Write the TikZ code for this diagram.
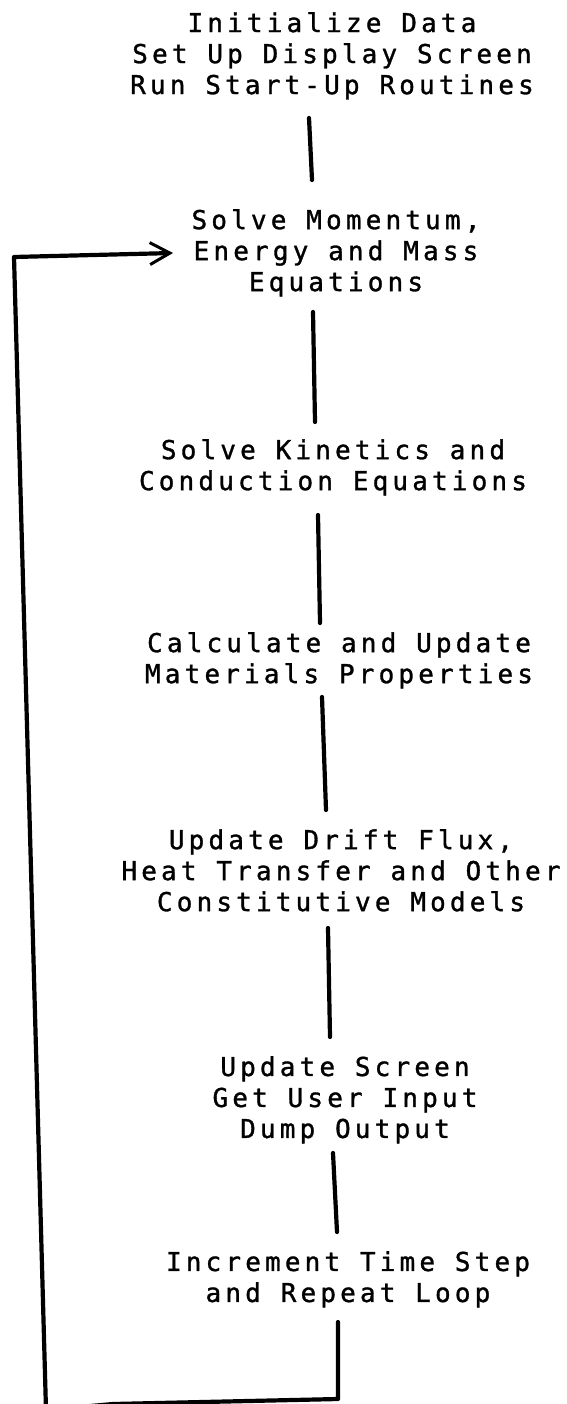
\documentclass[tikz,border=0pt]{standalone}
\usepackage{fontspec}
\newfontfamily\monofam[LetterSpace=16,FakeBold=1.2]{DejaVu Sans Mono}
\usetikzlibrary{arrows.meta}
\begin{document}
\begin{tikzpicture}[x=1pt,y=-1pt,
  stepbox/.style={anchor=north,inner sep=0pt,align=center,
    font=\monofam\fontsize{26}{31}\selectfont},
  link/.style={line width=4.2pt,line cap=round,line join=round},
  looparrow/.style={link,-{Straight Barb[length=20pt,width=22pt,line width=3pt]}}]
\useasboundingbox (0,0) rectangle (566,1404);
\clip (0,0) rectangle (566,1404);
\fill[white] (0,0) rectangle (566,1404);

\node[stepbox] (n1) at (332,12) {Initialize Data\\Set Up Display Screen\\Run Start-Up Routines};
\node[stepbox] (n2) at (336,209) {Solve Momentum,\\Energy and Mass\\Equations};
\node[stepbox] (n3) at (333,439) {Solve Kinetics and\\Conduction Equations};
\node[stepbox] (n4) at (339,632) {Calculate and Update\\Materials Properties};
\node[stepbox] (n5) at (341,829) {Update Drift Flux,\\Heat Transfer and Other\\Constitutive Models};
\node[stepbox] (n6) at (345,1056) {Update Screen\\Get User Input\\Dump Output};
\node[stepbox] (n7) at (348,1251) {Increment Time Step\\and Repeat Loop};

\coordinate (a1) at (309,118);  \coordinate (b1) at (312,180);
\coordinate (a2) at (313,312);  \coordinate (b2) at (315,422);
\coordinate (a3) at (318,515);  \coordinate (b3) at (320,623);
\coordinate (a4) at (322,697);  \coordinate (b4) at (326,810);
\coordinate (a5) at (328,928);  \coordinate (b5) at (330,1037);
\coordinate (a6) at (333,1153); \coordinate (b6) at (337,1232);
\coordinate (a7) at (338,1322);
\coordinate (r7) at (338,1399);
\coordinate (m7) at (113,1404);
\coordinate (l7) at (46,1410);
\coordinate (t7) at (14,257);
\coordinate (e7) at (173,253);

\draw[link] (a1) -- (b1);
\draw[link] (a2) -- (b2);
\draw[link] (a3) -- (b3);
\draw[link] (a4) -- (b4);
\draw[link] (a5) -- (b5);
\draw[link] (a6) -- (b6);
\draw[looparrow] (a7) -- (r7) -- (m7) -- (l7) -- (t7) -- (e7);
\end{tikzpicture}
\end{document}
